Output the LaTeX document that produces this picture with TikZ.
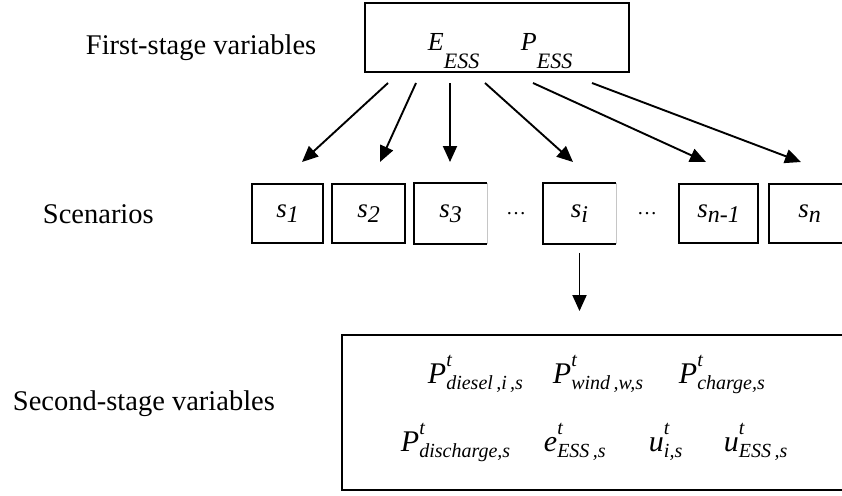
\documentclass[tikz,border=0pt]{standalone}
\usepackage{fontspec}
\setmainfont{Liberation Serif}
\usetikzlibrary{arrows.meta}
% italic letter with a lowered index
\newcommand{\lowsub}[4]{\textit{#1}\raisebox{-#2}{\fontsize{#3}{#3}\selectfont\textit{#4}}}
% italic letter with t on top and an index below
\newcommand{\tvar}[2]{\textit{#1}\rlap{\raisebox{17pt}{\fontsize{20}{20}\selectfont\textit{t}}}\raisebox{-6pt}{\fontsize{20}{20}\selectfont\textit{#2}}}
\begin{document}
\begin{tikzpicture}[x=1pt,y=-1pt,>={Triangle[length=16pt,width=14pt]},line width=1.9pt,
	sbox/.style={draw,minimum height=59pt,inner sep=0pt,font=\fontsize{27}{27}\selectfont},
	rowname/.style={anchor=base west,inner sep=0pt,font=\fontsize{28.5}{34}\selectfont},
	varname/.style={anchor=base west,inner sep=0pt,font=\fontsize{30}{36}\selectfont}]
	\useasboundingbox (0,0) rectangle (842,495);
	\clip (0,0) rectangle (842,495);
	% first stage
	\node[draw,minimum width=264pt,minimum height=69pt,inner sep=0pt] (first) at (497,37.5) {};
	\node[varname,font=\fontsize{26}{30}\selectfont] (eess) at (427,50) {\lowsub{E}{18pt}{22}{ESS}};
	\node[varname,font=\fontsize{26}{30}\selectfont] (pess) at (520,50) {\lowsub{P}{18pt}{22}{ESS}};
	\node[rowname] (firstname) at (85,55) {First-stage variables};
	\foreach \tx/\hx [count=\k] in {388/302,416/380,450/450,485/573,533/706,592/801}{
		\coordinate (tail\k) at (\tx,83);
		\coordinate (head\k) at (\hx,162);
		\draw[->] (tail\k) -- (head\k);
	}
	% scenarios
	\node[rowname] (scname) at (42,223) {Scenarios};
	\node[sbox,minimum width=71pt] (s1) at (287.5,213.5) {\lowsub{s}{5pt}{24}{1}};
	\node[sbox,minimum width=73pt] (s2) at (368.5,213.5) {\lowsub{s}{5pt}{24}{2}};
	\node[sbox,draw=none,minimum width=71pt] (s3) at (450.5,213.5) {\lowsub{s}{5pt}{24}{3}};
	\node[font=\fontsize{20}{20}\selectfont,inner sep=0pt] (dots1) at (516,214) {\ldots};
	\node[sbox,draw=none,minimum width=71pt] (si) at (579.5,213.5) {\lowsub{s}{5pt}{24}{i}};
	\node[font=\fontsize{20}{20}\selectfont,inner sep=0pt] (dots2) at (647,214) {\ldots};
	\node[sbox,minimum width=79pt] (sm) at (718.5,213.5) {\lowsub{s}{5pt}{24}{n-1}};
	\node[sbox,minimum width=81pt] (sn) at (809.5,213.5) {\lowsub{s}{5pt}{24}{n}};
	% s3 and si have a faint right side
	\foreach \b in {s3,si}{
		\draw (\b.north east) -- (\b.north west) -- (\b.south west) -- (\b.south east);
		\draw[gray!45,line width=0.8pt] (\b.north east) -- (\b.south east);
	}
	% second stage
	\node[draw,minimum width=508pt,minimum height=155pt,inner sep=0pt] (second) at (596,412.5) {};
	\draw[->,shorten <=9pt,shorten >=23pt] (si.south) -- (si.south |- second.north);
	\node[rowname] (secondname) at (12,410) {Second-stage variables};
	\node[varname] (pdiesel) at (427,383) {\tvar{P}{diesel\,,i\,,s}};
	\node[varname] (pwind) at (552,383) {\tvar{P}{wind\,,w,s}};
	\node[varname] (pcharge) at (678,383) {\tvar{P}{charge,s}};
	\node[varname] (pdis) at (400,451) {\tvar{P}{discharge,s}};
	\node[varname] (ebat) at (543,451) {\tvar{e}{ESS\,,s}};
	\node[varname] (ui) at (648,451) {\tvar{u}{i,s}};
	\node[varname] (ubat) at (723,451) {\tvar{u}{ESS\,,s}};
\end{tikzpicture}
\end{document}
